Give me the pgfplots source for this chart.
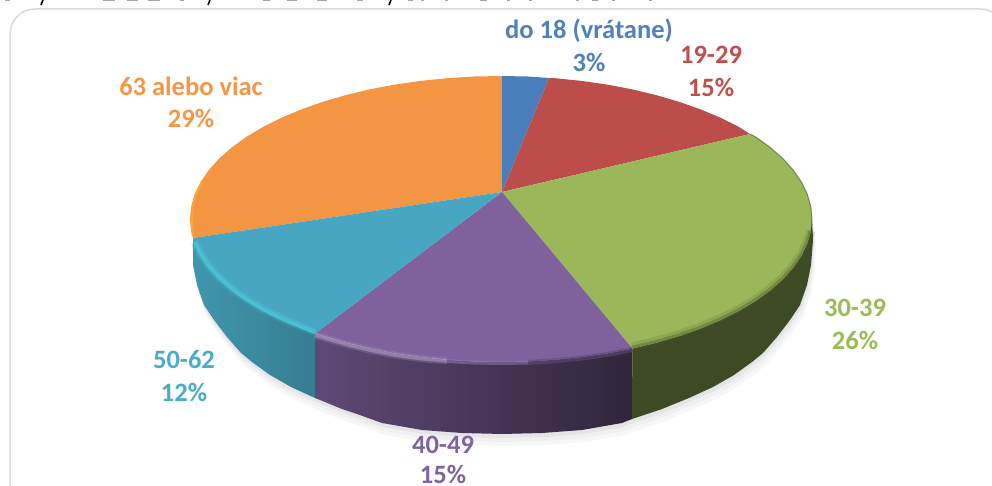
\documentclass[border=0pt]{standalone}
\usepackage{pgfplots}
\pgfplotsset{compat=1.18}
\usepackage{fontspec}
\setmainfont{Carlito}
\usetikzlibrary{calc}
\definecolor{cBlue}{HTML}{4A7EBB}
\definecolor{cRed}{HTML}{BC4D4A}
\definecolor{cGreen}{HTML}{9AB85A}
\definecolor{cPurple}{HTML}{7F619E}
\definecolor{cCyan}{HTML}{47A7C2}
\definecolor{cOrange}{HTML}{F49543}
\definecolor{tBlue}{HTML}{4F81BD}
\definecolor{tRed}{HTML}{C0504D}
\definecolor{tGreen}{HTML}{9BBB59}
\definecolor{tPurple}{HTML}{8064A2}
\definecolor{tCyan}{HTML}{4BACC6}
\definecolor{tOrange}{HTML}{F79646}
\newcommand{\lab}[4]{\node[text=#4,inner sep=0pt,font=\fontsize{26.5}{26.5}\selectfont\bfseries] at (axis cs:#1,#2) {#3};}
\pgfplotstableread{
x y
193 238
191 240
193 265
197 285
204 305
214 320
227 337
241 353
252 362
270 375
291 387
315 398
342 409
357 414
382 423
422 430
462 433
502 434
542 433
582 430
622 423
632 419
662 409
689 398
713 387
734 375
752 362
763 353
777 337
790 320
800 305
807 285
811 265
813 240
812 219
}\lowerrim
\begin{document}
\begin{tikzpicture}
\begin{axis}[
  scale only axis, width=992pt, height=486pt,
  xmin=0, xmax=992, ymin=0, ymax=486, y dir=reverse,
  hide axis, clip mode=global, axis on top=false,
]
% shadow
\addplot[draw=none,fill=black!3,yshift=-12pt,xshift=3pt] table {\lowerrim} -- cycle;
\addplot[draw=none,fill=black!6,yshift=-8pt,xshift=2pt] table {\lowerrim} -- cycle;
\addplot[draw=none,fill=black!10,yshift=-4pt,xshift=1pt] table {\lowerrim} -- cycle;
% side, cyan
\addplot[draw=none,left color=cCyan!90!black,right color=cCyan!75!black] coordinates {
(193,238)(194.7,243.8)(200.6,256)(208.8,267.9)(219.1,279.4)(231.7,290.5)(246.2,301)(262.8,310.9)(281.1,320.1)(301.1,328.5)(315,333.7)
(315,398)(291,387)(270,375)(252,362)(241,353)(227,337)(214,320)(204,305)(197,285)(193,265)} -- cycle;
% side, purple
\addplot[draw=none,left color=cPurple!75!black,right color=cPurple!38!black] coordinates {
(315,333.7)(322.6,336.1)(345.5,342.8)(369.6,348.6)(394.6,353.4)(420.5,357.1)(447,359.8)(473.9,361.5)(501,362)(528.1,361.5)(555,359.8)(581.5,357.1)(607.4,353.4)(632.4,348.6)
(632,419)(622,423)(582,430)(542,433)(502,434)(462,433)(422,430)(382,423)(357,414)(342,409)(315,398)} -- cycle;
% side, green
\addplot[draw=none,fill=cGreen!40!black] coordinates {
(632.4,348.6)(656.5,342.8)(679.4,336.1)(700.9,328.5)(720.9,320.1)(739.2,310.9)(755.8,301)(770.3,290.5)(782.9,279.4)(793.2,267.9)(801.4,256)(807.3,243.8)(810.8,231.5)(812,219)
(813,240)(811,265)(807,285)(800,305)(790,320)(777,337)(763,353)(752,362)(734,375)(713,387)(689,398)(662,409)(632,419)} -- cycle;
% top, orange
\addplot[draw=none,fill=cOrange] coordinates {
(502,192)(193,238)(191.2,231.5)(190,219)(191.2,206.5)(194.7,194.2)(200.6,182)(208.8,170.1)(219.1,158.6)(231.7,147.5)(246.2,137)(262.8,127.1)(281.1,117.9)(301.1,109.5)(322.6,101.9)(345.5,95.2)(369.6,89.4)(394.6,84.6)(420.5,80.9)(447,78.2)(473.9,76.5)(502,76)} -- cycle;
% top, blue
\addplot[draw=none,fill=cBlue] coordinates {
(502,192)(502,76)(528.1,76.5)(549,78)} -- cycle;
% top, red
\addplot[draw=none,fill=cRed] coordinates {
(502,192)(549,78)(555,78.2)(581.5,80.9)(607.4,84.6)(632.4,89.4)(656.5,95.2)(679.4,101.9)(700.9,109.5)(720.9,117.9)(739.2,127.1)(750,134)} -- cycle;
% top, green
\addplot[draw=none,fill=cGreen] coordinates {
(502,192)(750,134)(755.8,137)(770.3,147.5)(782.9,158.6)(793.2,170.1)(801.4,182)(807.3,194.2)(810.8,206.5)(812,219)(810.8,231.5)(807.3,243.8)(801.4,256)(793.2,267.9)(782.9,279.4)(770.3,290.5)(755.8,301)(739.2,310.9)(720.9,320.1)(700.9,328.5)(679.4,336.1)(656.5,342.8)(632.4,348.6)} -- cycle;
% top, purple
\addplot[draw=none,fill=cPurple] coordinates {
(502,192)(632.4,348.6)(607.4,353.4)(581.5,357.1)(555,359.8)(528.1,361.5)(501,362)(473.9,361.5)(447,359.8)(420.5,357.1)(394.6,353.4)(369.6,348.6)(345.5,342.8)(322.6,336.1)(315,333.7)} -- cycle;
% top, cyan
\addplot[draw=none,fill=cCyan] coordinates {
(502,192)(315,333.7)(301.1,328.5)(281.1,320.1)(262.8,310.9)(246.2,301)(231.7,290.5)(219.1,279.4)(208.8,267.9)(200.6,256)(194.7,243.8)(193,238)} -- cycle;
% rim highlights, soft
\addplot[draw=cCyan!60!cyan!85!white,line width=8pt,opacity=.22] coordinates {(194.7,242)(200.6,254)(208.8,266)(219.1,277.4)(231.7,288.5)(246.2,299)(262.8,309)(281.1,318)(301.1,326.5)(315,332)};
\addplot[draw=cCyan!60!cyan!85!white,line width=4pt,opacity=.45] coordinates {(194.7,242)(200.6,254)(208.8,266)(219.1,277.4)(231.7,288.5)(246.2,299)(262.8,309)(281.1,318)(301.1,326.5)(315,332)};
\addplot[draw=cPurple!60!white,line width=7pt,opacity=.25] coordinates {(315,335)(345.5,344)(369.6,350)(394.6,355)(420.5,358.6)(447,361)};
\addplot[draw=cPurple!60!white,line width=3.5pt,opacity=.55] coordinates {(315,335)(345.5,344)(369.6,350)(394.6,355)(420.5,358.6)(447,361)};
\addplot[draw=cPurple!90!white,line width=4pt,opacity=.6] coordinates {(447,361)(473.9,362.5)(501,363)(528.1,362.5)};
\addplot[draw=cPurple!75!black,line width=5pt,opacity=.6] coordinates {(528.1,362.5)(555,360.8)(581.5,358.1)(607.4,354.4)(632.4,349.6)};
\addplot[draw=cGreen!45!black,line width=9pt,opacity=.16] coordinates {(632.4,347)(656.5,341.2)(679.4,334.5)(700.9,326.9)(720.9,318.5)(739.2,309.3)(755.8,299.4)(770.3,288.9)(782.9,277.8)(793.2,266.3)(801.4,254.4)(807.3,242.2)(810.8,231)};
\addplot[draw=cGreen!45!black,line width=4.5pt,opacity=.35] coordinates {(632.4,348)(656.5,342.2)(679.4,335.5)(700.9,327.9)(720.9,319.5)(739.2,310.3)(755.8,300.4)(770.3,289.9)(782.9,278.8)(793.2,267.3)(801.4,255.4)(807.3,243.2)(810.8,231)};
\addplot[draw=cGreen!45!black,line width=1pt,opacity=.6] coordinates {(750,134)(755.8,137)(770.3,147.5)(782.9,158.6)(793.2,170.1)(801.4,182)(807.3,194.2)(810.8,206.5)(812,219)(810.8,231.5)};
\addplot[draw=cOrange!75!yellow,line width=2.5pt,opacity=.7] coordinates {(193,236)(192.5,231.5)(191.5,219)(192.5,206.5)(196,194.2)(202,182)};
% remains of the line cut off above the chart
\addplot[draw=black!35,line width=1pt,unbounded coords=jump] coordinates {
(5,0.3)(10,0.3)(nan,nan)(103,0.3)(115,0.3)(nan,nan)(127,0.3)(138,0.3)(nan,nan)(148,0.3)(160,0.3)(nan,nan)(180,0.3)(184,0.3)(nan,nan)(263,0.3)(270,0.3)(nan,nan)(287,0.3)(297,0.3)(nan,nan)(317,0.3)(327,0.3)(nan,nan)(357,0.3)(363,0.3)(nan,nan)(408,0.3)(413,0.3)(nan,nan)(421,0.3)(424,0.3)(nan,nan)(445,0.3)(448,0.3)(nan,nan)(480,0.3)(487,0.3)(nan,nan)(507,0.3)(510,0.3)(nan,nan)(529,0.3)(532,0.3)(nan,nan)(576,0.3)(579,0.3)(nan,nan)(592,0.3)(598,0.3)(nan,nan)(612,0.3)(615,0.3)(nan,nan)(649,0.3)(652,0.3)};
\addplot[draw=black,line width=1.6pt,unbounded coords=jump] coordinates {
(43,0)(41,5)(nan,nan)(210,0)(208,5)(nan,nan)(391,0)(389,5)};
% border
\draw[draw=black!15,line width=1.5pt,rounded corners=25pt] (axis cs:10,520)--(axis cs:10,9)--(axis cs:1005,9)--(axis cs:1005,520);
% labels
\lab{589}{31}{do 18 (vrátane)}{tBlue}
\lab{589}{62}{3\%}{tBlue}
\lab{711}{55}{19-29}{tRed}
\lab{711}{87}{15\%}{tRed}
\lab{855}{308}{30-39}{tGreen}
\lab{855}{340}{26\%}{tGreen}
\lab{443}{445}{40-49}{tPurple}
\lab{443}{474}{15\%}{tPurple}
\lab{184}{360}{50-62}{tCyan}
\lab{184}{392}{12\%}{tCyan}
\lab{191}{86}{63 alebo viac}{tOrange}
\lab{191}{118}{29\%}{tOrange}
\end{axis}
\pgfresetboundingbox
\path[use as bounding box] (current axis.south west) rectangle (current axis.north east);
\end{tikzpicture}
\end{document}
